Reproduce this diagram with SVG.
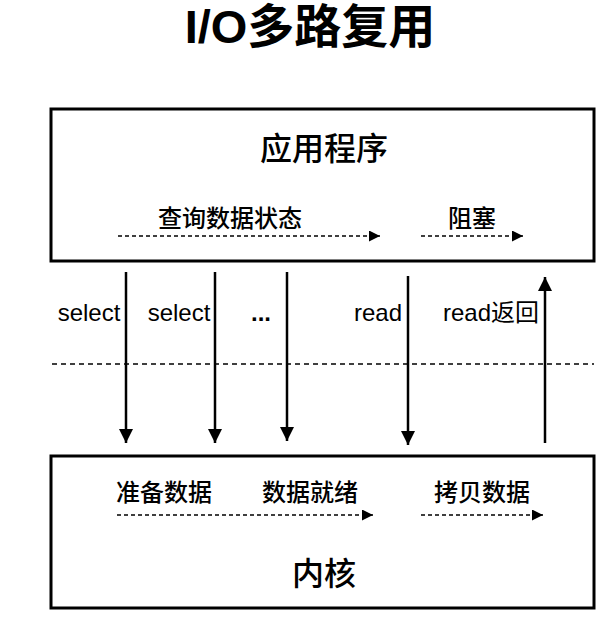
<svg xmlns="http://www.w3.org/2000/svg" width="610" height="617" viewBox="0 0 610 617">
<defs>
<style>
.t{font-family:"Liberation Sans","Noto Sans CJK SC",sans-serif;fill:#000;text-anchor:middle}
.c{font-weight:500}
.box{fill:#fff;stroke:#000;stroke-width:3}
.solid{stroke:#000;stroke-width:2.5;fill:none}
.dash{stroke:#000;stroke-width:1.5;stroke-dasharray:4 3;fill:none}
</style>
<marker id="ah" viewBox="0 0 12 12" refX="12" refY="6" markerWidth="14" markerHeight="14" markerUnits="userSpaceOnUse" orient="auto"><path d="M0,0 L12,6 L0,12 Z" fill="#000"/></marker>
<marker id="ahs" viewBox="0 0 10 10" refX="10" refY="5" markerWidth="11" markerHeight="11" markerUnits="userSpaceOnUse" orient="auto"><path d="M0,0 L10,5 L0,10 Z" fill="#000"/></marker>
</defs>
<rect width="610" height="617" fill="#fff"/>
<text class="t" x="310" y="43" style="font-size:47px;font-weight:bold">I/O多路复用</text>
<g id="app">
<rect class="box" x="51" y="109" width="543" height="152"/>
<text class="t c" x="324" y="160" style="font-size:32px">应用程序</text>
<text class="t c" x="230" y="227" style="font-size:24px">查询数据状态</text>
<text class="t c" x="472" y="227" style="font-size:24px">阻塞</text>
</g>
<g id="kernel">
<rect class="box" x="51" y="456" width="543" height="152"/>
<text class="t c" x="164" y="501" style="font-size:24px">准备数据</text>
<text class="t c" x="310" y="501" style="font-size:24px">数据就绪</text>
<text class="t c" x="482" y="501" style="font-size:24px">拷贝数据</text>
<text class="t c" x="324" y="585" style="font-size:32px">内核</text>
</g>
<g id="labels">
<text class="t" x="89" y="321" style="font-size:24px">select</text>
<text class="t" x="179" y="321" style="font-size:24px">select</text>
<text class="t" x="261" y="321" style="font-size:24px;font-weight:bold">...</text>
<text class="t" x="378" y="321" style="font-size:24px">read</text>
<text class="t" x="491" y="321" style="font-size:24px">read返回</text>
</g>
<g id="connectors">
<line class="dash" x1="118" y1="236" x2="380" y2="236" marker-end="url(#ahs)"/>
<line class="dash" x1="421" y1="236" x2="523" y2="236" marker-end="url(#ahs)"/>
<line class="dash" x1="117" y1="515" x2="373" y2="515" marker-end="url(#ahs)"/>
<line class="dash" x1="421" y1="515" x2="543" y2="515" marker-end="url(#ahs)"/>
<line class="dash" x1="52" y1="364" x2="594" y2="364" style="stroke-dasharray:5 4"/>
<line class="solid" x1="126" y1="272" x2="126" y2="443" marker-end="url(#ah)"/>
<line class="solid" x1="215" y1="272" x2="215" y2="443" marker-end="url(#ah)"/>
<line class="solid" x1="287" y1="272" x2="287" y2="441" marker-end="url(#ah)"/>
<line class="solid" x1="408" y1="276" x2="408" y2="445" marker-end="url(#ah)"/>
<line class="solid" x1="545" y1="443" x2="545" y2="277" marker-end="url(#ah)"/>
</g>
</svg>
